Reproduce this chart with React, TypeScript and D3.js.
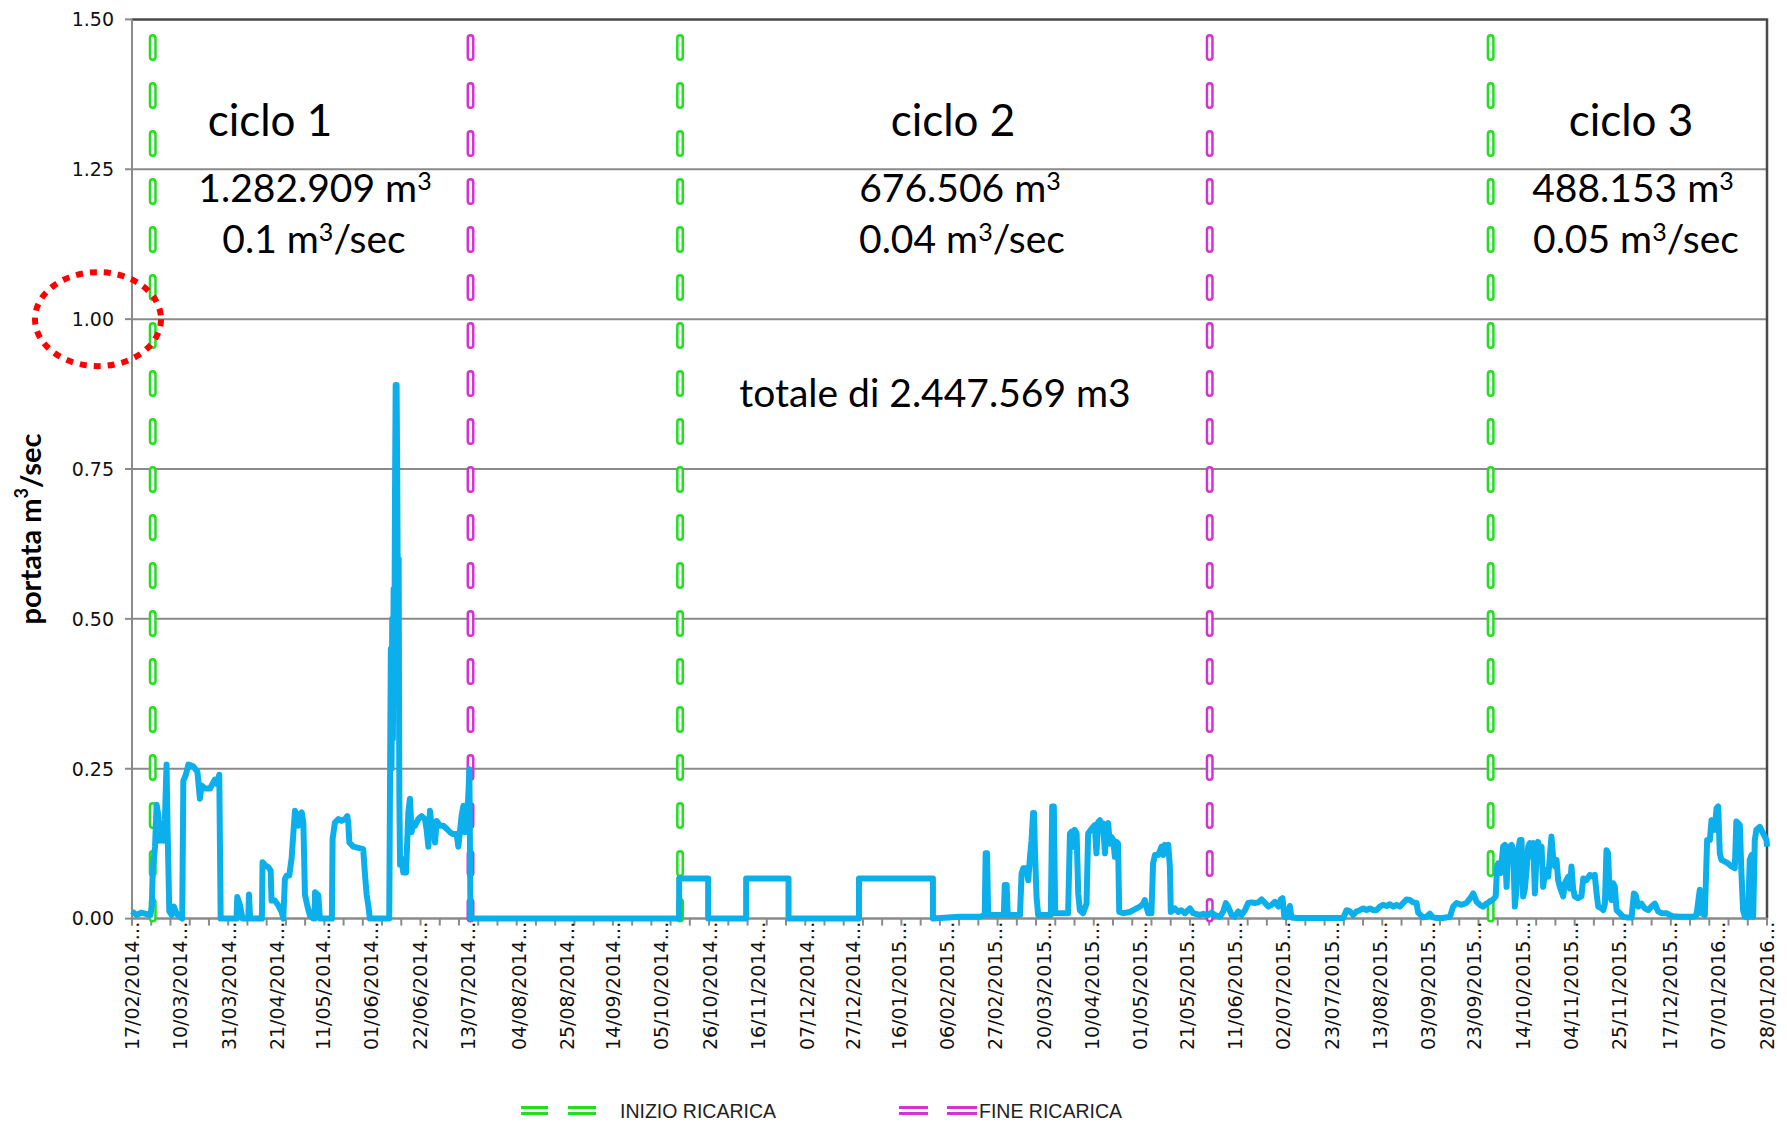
import { useEffect, useRef } from "react";
import * as d3 from "d3";

// category labels of the x axis (every 3rd week, as in the source sheet)
const labelDates = [
  "17/02/2014", "10/03/2014", "31/03/2014", "21/04/2014", "11/05/2014", "01/06/2014",
  "22/06/2014", "13/07/2014", "04/08/2014", "25/08/2014", "14/09/2014", "05/10/2014",
  "26/10/2014", "16/11/2014", "07/12/2014", "27/12/2014", "16/01/2015", "06/02/2015",
  "27/02/2015", "20/03/2015", "10/04/2015", "01/05/2015", "21/05/2015", "11/06/2015",
  "02/07/2015", "23/07/2015", "13/08/2015", "03/09/2015", "23/09/2015", "14/10/2015",
  "04/11/2015", "25/11/2015", "17/12/2015", "07/01/2016", "28/01/2016",
];
const yTicks = [0, 0.25, 0.5, 0.75, 1, 1.25, 1.5];

const inizioDates = ["26/02/2014", "13/10/2014", "30/09/2015"];
const fineDates = ["14/07/2014", "31/05/2015"];

// portata [giorni dal 17/02/2014, m3/sec]
const cycle1Flow = [
  [0, 0.012], [2, 0.006], [4, 0.01], [6, 0.008], [8, 0.006], [8.6, 0.02], [9, 0.08], [10, 0.12],
  [10.7, 0.19], [11.5, 0.17], [12, 0.13], [12.9, 0.15], [13.6, 0.13], [14.3, 0.165], [15, 0.257],
  [15.5, 0.14], [16.2, 0.012], [17.2, 0.006], [18.2, 0.02], [19.4, 0.008], [20.8, 0.003], [21.8, 0],
  [22.3, 0.23], [23.4, 0.24], [24.5, 0.257], [26.6, 0.254], [28.4, 0.245], [29.5, 0.2], [30.2, 0.222],
  [31.7, 0.217], [33.9, 0.217], [36, 0.232], [36.8, 0.225], [37.9, 0.24], [38.5, 0],
  [45.4, 0], [45.7, 0.036], [46.9, 0.022], [48, 0], [50.5, 0], [50.8, 0.04], [51.3, 0],
  [56.4, 0], [56.7, 0.094], [57.8, 0.089], [59.2, 0.086], [60.2, 0.08], [60.6, 0.03], [62.1, 0.03],
  [63.5, 0.022], [65, 0.011], [65.7, 0], [66.4, 0.066], [67.2, 0.072], [68.3, 0.072], [69.3, 0.1],
  [70.1, 0.144], [70.8, 0.18], [71.5, 0.17], [72.2, 0.155], [72.9, 0.174], [73.7, 0.177], [74.4, 0.16],
  [74.7, 0.11], [75.1, 0.04], [76.1, 0.022], [77.3, 0.005], [78.7, 0], [79.2, 0], [79.5, 0.044],
  [80.9, 0.039], [81.6, 0],
  [86.8, 0], [87.1, 0.133], [88.1, 0.16], [89.6, 0.166], [91, 0.163], [92.5, 0.166], [93.5, 0.171],
  [93.9, 0.16], [94.4, 0.127], [96.1, 0.12], [98.3, 0.118], [100.4, 0.116], [101.2, 0.072],
  [101.9, 0.04], [102.6, 0.022], [103.3, 0],
  [111.7, 0], [112, 0.194], [112.4, 0.45], [112.7, 0.25], [113, 0.5], [113.3, 0.3], [113.6, 0.55],
  [113.9, 0.4], [114.2, 0.7], [114.5, 0.89], [114.9, 0.89], [115.2, 0.72], [115.5, 0.45], [115.8, 0.6],
  [116.1, 0.2], [116.4, 0.09], [117.1, 0.1],
  [117.8, 0.077], [119, 0.077], [120, 0.177], [120.7, 0.2], [121.4, 0.144], [122.1, 0.16],
  [122.9, 0.155], [124.3, 0.166], [125.8, 0.171], [127.2, 0.166], [127.9, 0.15], [128.7, 0.12],
  [129.4, 0.18], [130.1, 0.155], [130.8, 0.16], [131.6, 0.127], [132.3, 0.163], [133.7, 0.155],
  [135.2, 0.155], [136.6, 0.15], [138.1, 0.144], [139.5, 0.141], [141, 0.141], [141.7, 0.12],
  [142.4, 0.144], [143.1, 0.171], [143.9, 0.188], [144.6, 0.144], [145.3, 0.177], [146, 0.2],
  [146.5, 0.249], [147, 0],
];

const idleFlow = [
  [147.5, 0], [237.6, 0], [237.6, 0.067], [250.2, 0.067], [250.2, 0], [266.7, 0], [266.7, 0.067],
  [285.1, 0.067], [285.1, 0], [315.7, 0], [315.7, 0.067], [347.8, 0.067], [347.8, 0], [359.5, 0.003],
];

const spring2015Flow = [
  [368.2, 0.003], [370.3, 0.006], [370.7, 0.109], [371.3, 0.109], [371.8, 0.006], [378.6, 0.006],
  [379, 0.056], [379.8, 0.056], [380.3, 0.006], [385.6, 0.006], [386.3, 0.075], [387, 0.084],
  [388.4, 0.084], [389.2, 0.064], [389.9, 0.1], [390.6, 0.13], [391.3, 0.176], [391.7, 0.176],
  [392.1, 0.114], [392.8, 0.036], [393.5, 0.006], [399, 0.006], [399.6, 0.187], [400.3, 0.187],
  [400.9, 0.009], [406.5, 0.009], [407.3, 0.142], [408, 0.145], [408.7, 0.12], [409.4, 0.148],
  [410.2, 0.142], [410.9, 0.042], [411.6, 0.014], [413, 0.009], [414.5, 0.025], [415.2, 0.142],
  [416.7, 0.15], [418.1, 0.156], [418.8, 0.109], [419.6, 0.161], [420.3, 0.164], [421, 0.15],
  [421.7, 0.159], [422.5, 0.109], [423.2, 0.156], [423.9, 0.159], [424.6, 0.125], [425.4, 0.136],
  [426.1, 0.131], [426.8, 0.103], [427.5, 0.128], [428.2, 0.125], [428.7, 0.011], [430.4, 0.009],
  [433.3, 0.011], [434.8, 0.014], [436.2, 0.017], [437.7, 0.02], [439.1, 0.025], [439.8, 0.031],
  [440.5, 0.02], [441.3, 0.009], [442.7, 0.009], [443.4, 0.092], [444.2, 0.106], [445.6, 0.106],
  [447.1, 0.12], [447.8, 0.106], [448.5, 0.123], [449.2, 0.12], [450, 0.123], [450.7, 0.087],
  [451.1, 0.011], [452.9, 0.017], [454.3, 0.011], [455.7, 0.014], [457.2, 0.009], [459.4, 0.017],
  [460.8, 0.009], [463.7, 0.006], [465.2, 0.008],
];

const summer2015Flow = [
  [466.6, 0.006], [467.4, 0.006], [468.8, 0.01], [470.3, 0.006], [472.4, 0.003], [473.9, 0.012],
  [475, 0.026], [476, 0.02], [477.5, 0.006], [478.9, 0.003], [480.4, 0.012], [481.8, 0.006],
  [483.3, 0.014], [484.7, 0.026], [486.2, 0.027], [487.6, 0.026], [489.1, 0.027], [490.5, 0.032],
  [492, 0.026], [493.4, 0.02], [494.9, 0.023], [496.3, 0.028], [497.8, 0.02], [498.8, 0.032],
  [499.6, 0.034], [500.4, 0.003], [501.4, 0.002], [502.8, 0.021], [503.5, 0.002], [505.7, 0.001],
  [526, 0.001], [527.4, 0.014], [528.9, 0.012], [530.3, 0.006], [531.8, 0.012], [533.2, 0.014],
  [534.7, 0.017], [536.1, 0.014], [537.6, 0.017], [539, 0.014], [540.4, 0.014], [541.9, 0.02],
  [543.3, 0.023], [544.8, 0.021], [546.2, 0.024], [547.7, 0.02], [549.1, 0.023], [550.6, 0.02],
  [552, 0.026], [553.5, 0.032], [554.9, 0.031], [556.4, 0.027], [557.8, 0.026], [558.5, 0.01],
  [560.7, 0.002], [562.2, 0.003], [563.6, 0.008], [565, 0.002], [566.5, 0.001], [569.4, 0.001],
  [572.3, 0.003], [573.7, 0.02], [575.2, 0.026], [577.4, 0.023], [579.5, 0.026], [581.7, 0.037],
  [582.4, 0.042], [583.9, 0.028], [585.3, 0.023],
];

const cycle3Flow = [
  [586.7, 0.02], [588.2, 0.025], [589.6, 0.028], [591.1, 0.032], [592.2, 0.037], [592.8, 0.087],
  [593.3, 0.092], [594.3, 0.076], [595.4, 0.12], [596.2, 0.123], [596.9, 0.053], [597.6, 0.114],
  [598.3, 0.12], [599.1, 0.123], [599.8, 0.114], [600.5, 0.02], [601.2, 0.048], [602, 0.114],
  [602.7, 0.131], [603.4, 0.131], [604.1, 0.037], [604.8, 0.048], [605.6, 0.081], [606.3, 0.12],
  [607, 0.126], [607.7, 0.103], [608.5, 0.126], [609.2, 0.042], [609.9, 0.103], [610.6, 0.128],
  [611.4, 0.114], [612.1, 0.12], [612.8, 0.053], [613.5, 0.076], [614.2, 0.081], [615, 0.07],
  [615.7, 0.103], [616.4, 0.137], [617.1, 0.103], [617.9, 0.087], [618.6, 0.098], [619.3, 0.064],
  [620, 0.053], [621.5, 0.037], [622.2, 0.059], [622.9, 0.064], [623.7, 0.07], [624.4, 0.05],
  [625.1, 0.087], [625.8, 0.05], [626.5, 0.037], [628, 0.034], [629.4, 0.037], [630.2, 0.067],
  [631.6, 0.064], [633.1, 0.073], [634.5, 0.07], [635.2, 0.073], [636, 0.042], [636.7, 0.02],
  [638.1, 0.017], [638.9, 0.014], [639.6, 0.025], [640.3, 0.114], [641, 0.109], [641.7, 0.037],
  [642.5, 0.031], [643.2, 0.059], [643.9, 0.053], [644.7, 0.014], [646.1, 0.009], [647.5, 0.003],
  [649, 0.002], [651.2, 0.002], [652.2, 0.042], [653, 0.039], [654.1, 0.02], [655.5, 0.025],
  [656.9, 0.017], [658.4, 0.014], [659.8, 0.02], [661.3, 0.025], [662.7, 0.012], [664.2, 0.009],
  [666.3, 0.009], [667.8, 0.006], [669.2, 0.004], [672.1, 0.003], [675, 0.003], [677.9, 0.003],
  [679.4, 0.006], [680.8, 0.048], [681.5, 0.009], [683, 0.006], [684, 0.131], [685.2, 0.131],
  [685.9, 0.164], [686.6, 0.162], [687.3, 0.148], [688.1, 0.184], [688.8, 0.187], [689.5, 0.109],
  [690.2, 0.098], [691.7, 0.095], [693.1, 0.092], [694.6, 0.087], [696, 0.084], [696.7, 0.162],
  [697.5, 0.159], [698.2, 0.156], [698.9, 0.076], [699.6, 0.014], [700.4, 0.003], [701.8, 0.002],
  [702.5, 0.098], [703.3, 0.106], [704, 0.003], [704.7, 0.131], [705.4, 0.148], [706.9, 0.153],
  [708.3, 0.142], [709.8, 0.131], [710, 0.12],
];

const cycleNames = ["ciclo 1", "ciclo 2", "ciclo 3"];
const cycleVolumes = ["1.282.909", "676.506", "488.153"];
const cycleRates = ["0.1", "0.04", "0.05"];
const totalLabel = "totale di 2.447.569 m3";
const legendLabels = ["INIZIO RICARICA", "FINE RICARICA"];

const W = 1787;
const H = 1125;
const margin = { left: 132, right: 1767, top: 19.4, bottom: 918.6 };
const GREEN = "#22dd22";
const MAGENTA = "#d433d4";
const BLUE = "#0aafec";
const TICK_FONT = "'DejaVu Sans', Verdana, sans-serif";
const NOTE_FONT = "Lato, 'Open Sans', sans-serif";

export default function App() {
  const svgRef = useRef<SVGSVGElement>(null);

  useEffect(() => {
    const svg = d3.select(svgRef.current);
    svg.selectAll("*").remove();

    const parse = d3.utcParse("%d/%m/%Y");
    const start = parse(labelDates[0]) as Date;
    const end = parse(labelDates[labelDates.length - 1]) as Date;
    const dayToDate = (d: number) => new Date(start.getTime() + d * 864e5);

    const x = d3.scaleUtc().domain([start, end]).range([margin.left, margin.right]);
    const y = d3.scaleLinear().domain([0, 1.5]).range([margin.bottom, margin.top]);

    svg.append("rect").attr("width", W).attr("height", H).attr("fill", "#fff");

    // gridlines
    svg.append("g")
      .selectAll("line")
      .data(yTicks.slice(1, -1))
      .join("line")
      .attr("x1", margin.left).attr("x2", margin.right)
      .attr("y1", d => y(d)).attr("y2", d => y(d))
      .attr("stroke", "#8a8a8a").attr("stroke-width", 2);

    // top + right frame
    svg.append("path")
      .attr("d", `M${margin.left},${y(1.5)}H${margin.right}V${margin.bottom}`)
      .attr("fill", "none").attr("stroke", "#4a4a4a").attr("stroke-width", 2.5);

    // y axis
    const yAxis = svg.append("g");
    yAxis.append("line")
      .attr("x1", margin.left).attr("x2", margin.left)
      .attr("y1", y(1.5)).attr("y2", margin.bottom + 7)
      .attr("stroke", "#8a8a8a").attr("stroke-width", 2);
    yAxis.selectAll(".yt")
      .data(yTicks)
      .join("line")
      .attr("x1", margin.left - 7).attr("x2", margin.left)
      .attr("y1", d => y(d)).attr("y2", d => y(d))
      .attr("stroke", "#8a8a8a").attr("stroke-width", 2);
    yAxis.selectAll("text")
      .data(yTicks)
      .join("text")
      .attr("x", 114).attr("y", d => y(d)).attr("dy", "0.36em")
      .attr("text-anchor", "end")
      .style("font-family", TICK_FONT).style("font-size", "19px").attr("fill", "#111")
      .text(d => d.toFixed(2));

    svg.append("text")
      .attr("transform", "translate(29,529) rotate(-90)")
      .attr("text-anchor", "middle").attr("dominant-baseline", "central")
      .style("font-family", NOTE_FONT).style("font-size", "29px").style("font-weight", "bold")
      .call(t => {
        t.append("tspan").text("portata m");
        t.append("tspan").attr("baseline-shift", "8px").style("font-size", "18px").text("3");
        t.append("tspan").text("/sec");
      });

    // x axis (category style: label every 3 weeks, minor tick every 0.4 label)
    const xAxis = svg.append("g");
    xAxis.append("line")
      .attr("x1", margin.left).attr("x2", margin.right)
      .attr("y1", margin.bottom).attr("y2", margin.bottom)
      .attr("stroke", "#8a8a8a").attr("stroke-width", 2.5);
    const nMinor = (labelDates.length - 1) * 2.5;
    const minor = d3.scaleLinear().domain([0, nMinor]).range([margin.left, margin.right]);
    xAxis.selectAll(".xt")
      .data(d3.range(nMinor + 1))
      .join("line")
      .attr("x1", d => minor(d)).attr("x2", d => minor(d))
      .attr("y1", margin.bottom).attr("y2", margin.bottom + 7)
      .attr("stroke", "#8a8a8a").attr("stroke-width", 2);
    xAxis.selectAll("text")
      .data(labelDates)
      .join("text")
      .attr("transform", d => `translate(${x(parse(d) as Date)},${margin.bottom + 3}) rotate(-90)`)
      .attr("dy", "0.36em")
      .attr("text-anchor", "end")
      .style("font-family", TICK_FONT).style("font-size", "19px").attr("fill", "#111")
      .text(d => d + "\u2026");

    // start / end of recharge markers (hollow capsule dashes)
    const markers = [
      ...inizioDates.map(d => ({ d, c: GREEN })),
      ...fineDates.map(d => ({ d, c: MAGENTA })),
    ];
    const mk = svg.append("g");
    markers.forEach(m => {
      const px = x(parse(m.d) as Date);
      mk.append("line")
        .attr("x1", px).attr("x2", px).attr("y1", 38).attr("y2", margin.bottom)
        .attr("stroke", m.c).attr("stroke-width", 8).attr("stroke-linecap", "round")
        .attr("stroke-dasharray", "19 29");
      mk.append("line")
        .attr("x1", px).attr("x2", px).attr("y1", 38).attr("y2", margin.bottom)
        .attr("stroke", "#fff").attr("stroke-width", 3).attr("stroke-linecap", "round")
        .attr("stroke-dasharray", "19 29");
    });

    // flow line
    const flow = [...cycle1Flow, ...idleFlow, ...spring2015Flow, ...summer2015Flow, ...cycle3Flow];
    const line = d3.line<number[]>()
      .x(d => x(dayToDate(d[0])))
      .y(d => y(d[1]));
    svg.append("path")
      .datum(flow)
      .attr("fill", "none")
      .attr("stroke", BLUE)
      .attr("stroke-width", 6)
      .attr("stroke-linejoin", "round")
      .attr("d", line);

    // notes per cycle
    const notePos = [
      { name: 270, vol: 315, rate: 314 },
      { name: 953, vol: 960, rate: 962 },
      { name: 1631, vol: 1633, rate: 1636 },
    ];
    const notes = svg.append("g").style("font-family", NOTE_FONT).attr("fill", "#000");
    cycleNames.forEach((n, i) => {
      notes.append("text").attr("x", notePos[i].name).attr("y", 136)
        .attr("text-anchor", "middle").style("font-size", "44px").text(n);
      const v = notes.append("text").attr("x", notePos[i].vol).attr("y", 202)
        .attr("text-anchor", "middle").style("font-size", "39px");
      v.append("tspan").text(cycleVolumes[i] + " m");
      v.append("tspan").attr("baseline-shift", "12px").style("font-size", "25px").text("3");
      const r = notes.append("text").attr("x", notePos[i].rate).attr("y", 253)
        .attr("text-anchor", "middle").style("font-size", "39px");
      r.append("tspan").text(cycleRates[i] + " m");
      r.append("tspan").attr("baseline-shift", "12px").style("font-size", "25px").text("3");
      r.append("tspan").text("/sec");
    });
    notes.append("text").attr("x", 935).attr("y", 407)
      .attr("text-anchor", "middle").style("font-size", "39px").text(totalLabel);

    // legend
    const legend = svg.append("g");
    const legendItems = [
      { label: legendLabels[0], c: GREEN, segs: [[521, 548], [568, 596]], tx: 620 },
      { label: legendLabels[1], c: MAGENTA, segs: [[899, 928], [947, 977]], tx: 979 },
    ];
    legendItems.forEach(it => {
      it.segs.forEach(([a, b]) => {
        [1107.5, 1113.5].forEach(ly => {
          legend.append("line").attr("x1", a).attr("x2", b).attr("y1", ly).attr("y2", ly)
            .attr("stroke", it.c).attr("stroke-width", 3);
        });
      });
      legend.append("text").attr("x", it.tx).attr("y", 1111).attr("dy", "0.36em")
        .style("font-family", "'Liberation Sans', Arial, sans-serif").style("font-size", "19.5px")
        .attr("fill", "#222").text(it.label);
    });

    // red dotted highlight around 1.00
    svg.append("ellipse")
      .attr("cx", 98).attr("cy", y(1)).attr("rx", 63).attr("ry", 47)
      .attr("fill", "none").attr("stroke", "#ff0000").attr("stroke-width", 6)
      .attr("stroke-dasharray", "7 7");
  }, []);

  return (
    <svg
      ref={svgRef}
      width={W}
      height={H}
      style={{ position: "absolute", left: 0, top: 0, display: "block" }}
    />
  );
}
